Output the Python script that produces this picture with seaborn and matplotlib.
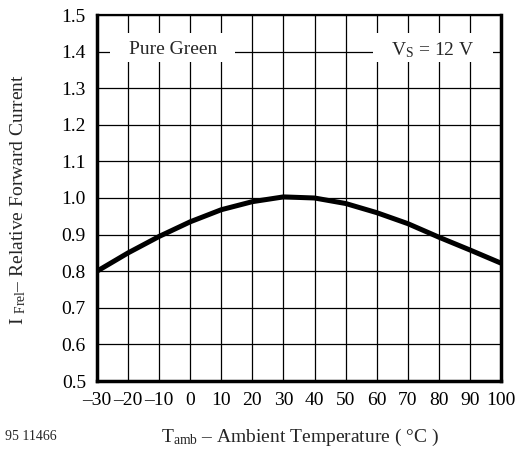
import matplotlib
matplotlib.use("Agg")
import matplotlib.pyplot as plt
from matplotlib.patches import Rectangle
import seaborn as sns
import pandas as pd

temps = [-30, -20, -10, 0, 10, 20, 30, 40, 50, 60, 70, 80, 90, 100]
rel_current = [0.800, 0.850, 0.895, 0.935, 0.968, 0.990, 1.003, 1.000, 0.985, 0.960, 0.930, 0.893, 0.858, 0.822]
x_ticks = [-30, -20, -10, 0, 10, 20, 30, 40, 50, 60, 70, 80, 90, 100]
x_tick_labels = ["\u201330", "\u201320", "\u201310", "0", "10", "20", "30", "40", "50", "60", "70", "80", "90", "100"]
y_ticks = [0.5, 0.6, 0.7, 0.8, 0.9, 1.0, 1.1, 1.2, 1.3, 1.4, 1.5]
y_tick_labels = ["0.5", "0.6", "0.7", "0.8", "0.9", "1.0", "1.1", "1.2", "1.3", "1.4", "1.5"]

sns.set_style("white")
plt.rcParams["font.family"] = ["Liberation Serif", "DejaVu Serif"]
plt.rcParams["mathtext.fontset"] = "custom"
plt.rcParams["mathtext.rm"] = "Liberation Serif"
plt.rcParams["mathtext.it"] = "Liberation Serif"

df = pd.DataFrame({"T": temps, "I": rel_current})

fig = plt.figure(figsize=(5.16, 4.55), dpi=100)
ax = fig.add_axes([97/516, 1 - 381/455, (501-97)/516, (381-15)/455])

ax.set_xlim(-30, 100)
ax.set_ylim(0.5, 1.5)
ax.set_xticks(x_ticks)
ax.set_xticklabels(x_tick_labels)
ax.set_yticks(y_ticks)
ax.set_yticklabels(y_tick_labels)
ax.grid(True, color="black", linewidth=0.9)
ax.set_axisbelow(True)
ax.tick_params(axis="both", length=0, labelsize=14, colors="black", pad=8)

sns.lineplot(data=df, x="T", y="I", ax=ax, color="black", linewidth=3.6, zorder=3)

for s in ax.spines.values():
    s.set_color("black")
    s.set_linewidth(2.5)
ax.spines["top"].set_linewidth(1.6)

ax.set_xlabel("")
ax.set_ylabel("")

ax.add_patch(Rectangle((-25.8, 1.372), 40.2, 0.079, facecolor="white", edgecolor="none", zorder=2))
ax.add_patch(Rectangle((58.8, 1.372), 38.6, 0.079, facecolor="white", edgecolor="none", zorder=2))
ax.text(-5.5, 1.405, "Pure Green", fontsize=14, ha="center", va="center", zorder=4)
ax.text(78, 1.405, r"V$_\mathregular{S}$ = 12 V", fontsize=14, ha="center", va="center", zorder=4)

fig.text(300/516, 1 - 437/455, r"T$_\mathregular{amb}$ " + "\u2013 Ambient Temperature ( \u00b0C )",
         fontsize=14, ha="center", va="center")
fig.text(18/516, 1 - 200/455, r"I $_\mathregular{Frel}$" + "\u2013 Relative Forward Current",
         fontsize=14, ha="center", va="center", rotation=90)
fig.text(5/516, 1 - 436/455, "95 11466", fontsize=10, ha="left", va="center")

fig.savefig("out.png", dpi=100)
